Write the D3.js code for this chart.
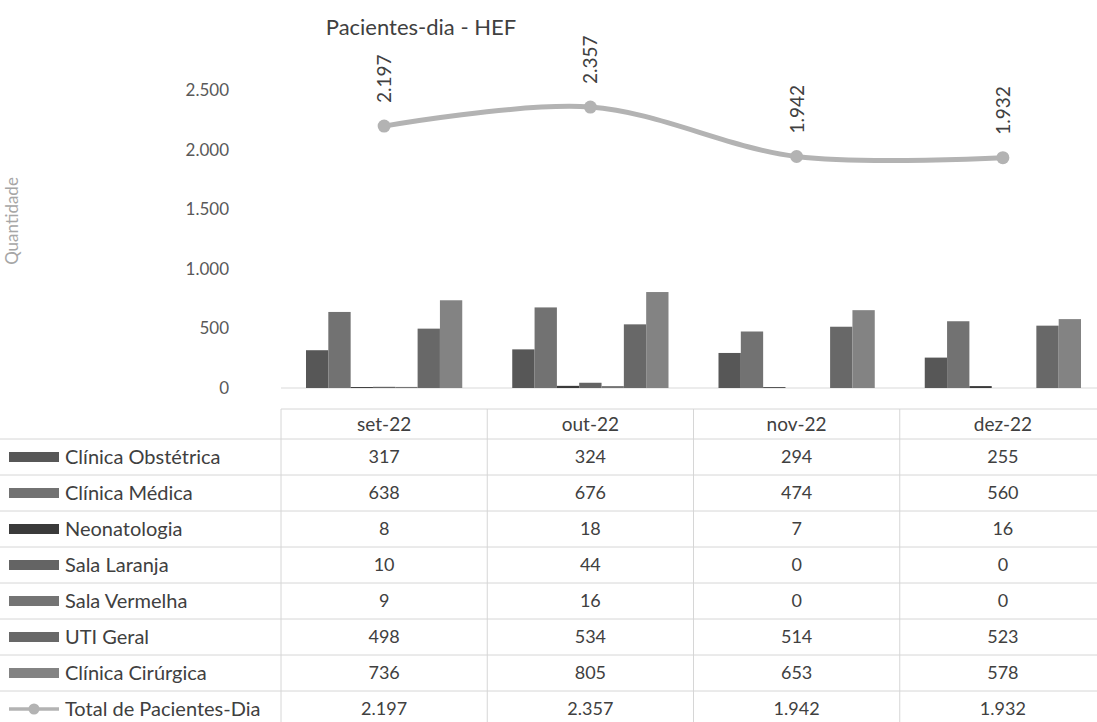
<!DOCTYPE html>
<html>
<head>
<meta charset="utf-8">
<script src="https://cdn.jsdelivr.net/npm/d3@7"></script>
<style>
  html, body { margin: 0; padding: 0; background: #fff; }
  svg { display: block; font-family: Lato, "Open Sans", sans-serif; }
</style>
</head>
<body>
<svg id="chart" width="1097" height="722"></svg>
<script>
// Months shown on the category axis / table header
const categories = ["set-22", "out-22", "nov-22", "dez-22"];

// Patient-days per sector
const seriesNames = ["Clínica Obstétrica", "Clínica Médica", "Neonatologia", "Sala Laranja", "Sala Vermelha", "UTI Geral", "Clínica Cirúrgica"];
const clinicaObstetrica = [317, 324, 294, 255];
const clinicaMedica     = [638, 676, 474, 560];
const neonatologia      = [8, 18, 7, 16];
const salaLaranja       = [10, 44, 0, 0];
const salaVermelha      = [9, 16, 0, 0];
const utiGeral          = [498, 534, 514, 523];
const clinicaCirurgica  = [736, 805, 653, 578];

// Overall total line
const totalName = "Total de Pacientes-Dia";
const totalPacientesDia = [2197, 2357, 1942, 1932];

// Value axis ticks
const yTicks = [0, 500, 1000, 1500, 2000, 2500];

const seriesValues = [clinicaObstetrica, clinicaMedica, neonatologia, salaLaranja, salaVermelha, utiGeral, clinicaCirurgica];
const seriesColors = ["#575757", "#727272", "#3a3a3a", "#646464", "#747474", "#686868", "#838383"];
const lineColor = "#b3b3b3";

const fmt = d3.formatLocale({ decimal: ",", thousands: ".", grouping: [3], currency: ["R$", ""] }).format(",d");

const svg = d3.select("#chart");

// Layout
const plotLeft = 281, plotRight = 1106;
const y = d3.scaleLinear().domain([0, 2500]).range([388, 90]);
const x0 = d3.scaleBand().domain(categories).range([plotLeft, plotRight]);
const x1 = d3.scaleBand().domain(seriesNames).range([0, x0.bandwidth()]).paddingOuter(1.12);

// Title
svg.append("text")
  .attr("x", 421).attr("y", 35)
  .attr("text-anchor", "middle")
  .attr("font-size", 22)
  .attr("fill", "#404040")
  .text("Pacientes-dia - HEF");

// Axis title
svg.append("text")
  .attr("transform", "translate(18,221) rotate(-90)")
  .attr("text-anchor", "middle")
  .attr("font-size", 17)
  .attr("fill", "#a6a6a6")
  .text("Quantidade");

// Value axis
const yAxis = svg.append("g")
  .attr("transform", "translate(229,0)")
  .call(d3.axisLeft(y).tickValues(yTicks).tickFormat(fmt).tickSize(0).tickPadding(0));
yAxis.select(".domain").remove();
yAxis.selectAll("text")
  .attr("font-family", "Lato, 'Open Sans', sans-serif")
  .attr("font-size", 17)
  .attr("fill", "#595959");

// Baseline
svg.append("line")
  .attr("x1", plotLeft).attr("x2", 1097)
  .attr("y1", y(0)).attr("y2", y(0))
  .attr("stroke", "#d9d9d9").attr("stroke-width", 1);

// Bars
const groups = svg.append("g").selectAll("g")
  .data(categories)
  .join("g")
  .attr("transform", d => `translate(${x0(d)},0)`);

groups.selectAll("rect")
  .data((c, ci) => seriesNames.map((s, si) => ({ s, si, v: seriesValues[si][ci] })))
  .join("rect")
  .attr("x", d => x1(d.s))
  .attr("width", x1.bandwidth())
  .attr("y", d => y(d.v))
  .attr("height", d => y(0) - y(d.v))
  .attr("fill", d => seriesColors[d.si]);

// Total line (smoothed)
const pts = categories.map((c, i) => ({ c, v: totalPacientesDia[i] }));
const line = d3.line()
  .x(d => x0(d.c) + x0.bandwidth() / 2)
  .y(d => y(d.v))
  .curve(d3.curveCatmullRom.alpha(0.5));

svg.append("path")
  .datum(pts)
  .attr("d", line)
  .attr("fill", "none")
  .attr("stroke", lineColor)
  .attr("stroke-width", 5)
  .attr("stroke-linecap", "round");

svg.append("g").selectAll("circle")
  .data(pts)
  .join("circle")
  .attr("cx", d => x0(d.c) + x0.bandwidth() / 2)
  .attr("cy", d => y(d.v))
  .attr("r", 6.5)
  .attr("fill", lineColor);

// Data labels, rotated
svg.append("g").selectAll("text")
  .data(pts)
  .join("text")
  .attr("transform", d => `translate(${x0(d.c) + x0.bandwidth() / 2 + 7},${y(d.v) - 23}) rotate(-90)`)
  .attr("font-size", 19)
  .attr("fill", "#404040")
  .text(d => fmt(d.v));

// Data table
const tableTop = 409, headerH = 30, rowH = 36;
const rowNames = seriesNames.concat([totalName]);
const rowValues = seriesValues.concat([totalPacientesDia]);
const gridColor = "#d6d6d6";
const table = svg.append("g");

// header top border and column separators
table.append("line")
  .attr("x1", plotLeft).attr("x2", 1097)
  .attr("y1", tableTop).attr("y2", tableTop)
  .attr("stroke", gridColor);
const tableBottom = tableTop + headerH + rowH * rowNames.length;
table.selectAll("line.col")
  .data(categories)
  .join("line")
  .attr("class", "col")
  .attr("x1", d => x0(d)).attr("x2", d => x0(d))
  .attr("y1", tableTop).attr("y2", tableBottom)
  .attr("stroke", gridColor);

// header labels
table.selectAll("text.hdr")
  .data(categories)
  .join("text")
  .attr("class", "hdr")
  .attr("x", d => x0(d) + x0.bandwidth() / 2)
  .attr("y", tableTop + headerH / 2)
  .attr("dy", "0.35em")
  .attr("text-anchor", "middle")
  .attr("font-size", 19)
  .attr("fill", "#404040")
  .text(d => d);

// rows
rowNames.forEach((name, ri) => {
  const top = tableTop + headerH + ri * rowH;
  const cy = top + rowH / 2;
  table.append("line")
    .attr("x1", 0).attr("x2", 1097)
    .attr("y1", top).attr("y2", top)
    .attr("stroke", gridColor);

  if (ri < seriesNames.length) {
    table.append("rect")
      .attr("x", 9).attr("y", cy - 5)
      .attr("width", 50).attr("height", 10)
      .attr("fill", seriesColors[ri]);
  } else {
    table.append("line")
      .attr("x1", 9).attr("x2", 59)
      .attr("y1", cy).attr("y2", cy)
      .attr("stroke", lineColor).attr("stroke-width", 3.5);
    table.append("circle")
      .attr("cx", 34).attr("cy", cy).attr("r", 5.5)
      .attr("fill", lineColor);
  }

  table.append("text")
    .attr("x", 65).attr("y", cy)
    .attr("dy", "0.33em")
    .attr("font-size", 20)
    .attr("fill", "#404040")
    .text(name);

  table.selectAll(null)
    .data(categories)
    .join("text")
    .attr("x", d => x0(d) + x0.bandwidth() / 2)
    .attr("y", cy)
    .attr("dy", "0.33em")
    .attr("text-anchor", "middle")
    .attr("font-size", 18)
    .attr("fill", "#404040")
    .text((d, ci) => fmt(rowValues[ri][ci]));
});
</script>
</body>
</html>
